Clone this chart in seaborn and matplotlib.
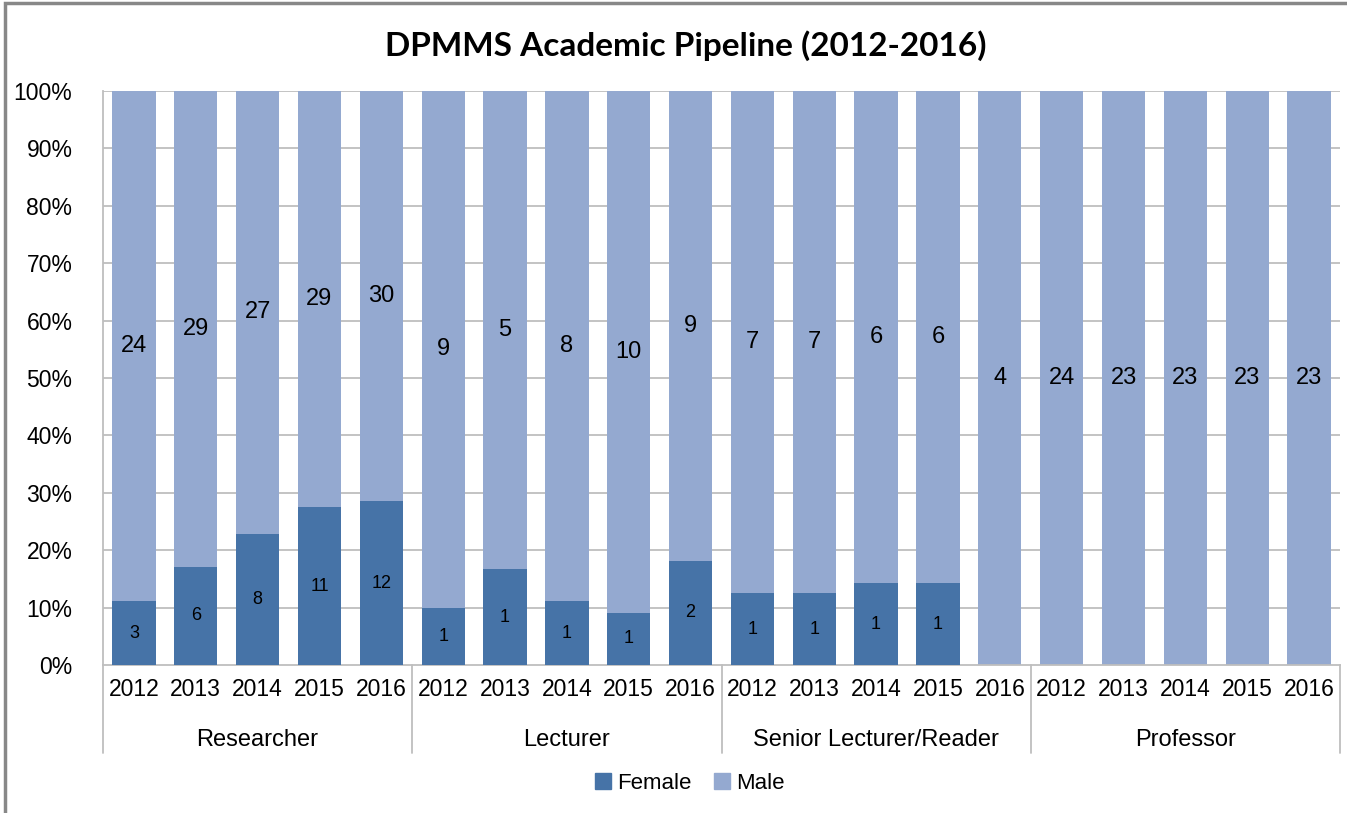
import matplotlib
matplotlib.use("Agg")
import matplotlib.pyplot as plt
import matplotlib.transforms as mtransforms
from matplotlib.patches import Patch, Rectangle
import seaborn as sns
import pandas as pd

# ---- data ----
groups = ["Researcher", "Lecturer", "Senior Lecturer/Reader", "Professor"]
years = ["2012", "2013", "2014", "2015", "2016"]
female_researcher = [3, 6, 8, 11, 12]
male_researcher = [24, 29, 27, 29, 30]
female_lecturer = [1, 1, 1, 1, 2]
male_lecturer = [9, 5, 8, 10, 9]
female_senior = [1, 1, 1, 1, 0]
male_senior = [7, 7, 6, 6, 4]
female_professor = [0, 0, 0, 0, 0]
male_professor = [24, 23, 23, 23, 23]
yticks = [0, 10, 20, 30, 40, 50, 60, 70, 80, 90, 100]

female_all = [female_researcher, female_lecturer, female_senior, female_professor]
male_all = [male_researcher, male_lecturer, male_senior, male_professor]

rows = []
for g, fs, ms in zip(groups, female_all, male_all):
    for y, f, m in zip(years, fs, ms):
        tot = f + m
        rows.append({"key": f"{g}|{y}", "group": g, "year": y, "female": f, "male": m,
                     "fpct": 100.0 * f / tot, "total": 100.0})
df = pd.DataFrame(rows)
order = list(df["key"])

FEMALE = "#4673A7"
MALE = "#94A9D0"
GRID = "#BEBEBE"

sns.set_theme(style="white")
plt.rcParams["font.family"] = ["Liberation Sans", "DejaVu Sans"]
plt.rcParams["text.color"] = "black"
plt.rcParams["xtick.color"] = "black"
plt.rcParams["ytick.color"] = "black"

fig = plt.figure(figsize=(13.47, 8.13), dpi=100)
ax = fig.add_axes([103 / 1347, 1 - 665 / 813, (1340 - 103) / 1347, (665 - 91) / 813])

sns.barplot(data=df, x="key", y="total", order=order, color=MALE, saturation=1,
            width=0.7, ax=ax, zorder=2, linewidth=0)
sns.barplot(data=df, x="key", y="fpct", order=order, color=FEMALE, saturation=1,
            width=0.7, ax=ax, zorder=3, linewidth=0)

ax.set_xlim(-0.5, len(order) - 0.5)
ax.set_ylim(0, 100)
ax.set_yticks(yticks)
ax.set_yticklabels([f"{t}%" for t in yticks], fontsize=16.5)
ax.set_xticks(range(len(order)))
ax.set_xticklabels(list(df["year"]), fontsize=16.5)
ax.tick_params(axis="y", length=0, pad=22, labelcolor="black")
ax.tick_params(axis="x", length=0, pad=9, labelcolor="black")
ax.set_xlabel("")
ax.set_ylabel("")
for t in yticks[1:]:
    ax.axhline(t, color=GRID, lw=1.3, zorder=1)
for s in ["top", "right"]:
    ax.spines[s].set_visible(False)
for s in ["left", "bottom"]:
    ax.spines[s].set_color(GRID)
    ax.spines[s].set_linewidth(1.3)

# value labels
for i, r in df.iterrows():
    if r["female"] > 0:
        ax.text(i, r["fpct"] / 2, str(r["female"]), ha="center", va="center",
                fontsize=13, color="black", zorder=5)
    if r["male"] > 0:
        ax.text(i, r["fpct"] + (100 - r["fpct"]) / 2, str(r["male"]), ha="center",
                va="center", fontsize=17, color="black", zorder=5)

# group labels and separators
trans = mtransforms.blended_transform_factory(ax.transData, ax.transAxes)
n = len(years)
bottom_sep = -(753 - 665) / (665 - 91)
for k in range(len(groups) + 1):
    xb = k * n - 0.5
    ax.plot([xb, xb], [0, bottom_sep], transform=trans, color=GRID, lw=1.3,
            clip_on=False)
for k, g in enumerate(groups):
    ax.text(k * n + (n - 1) / 2, -(740 - 665) / (665 - 91), g, transform=trans,
            ha="center", va="center", fontsize=17, color="black")

fig.text(686 / 1347, 1 - 46 / 813, "DPMMS Academic Pipeline (2012-2016)", fontsize=24,
         fontweight="bold", family=["Lato", "DejaVu Sans"], ha="center", va="center",
         color="black")

handles = [Patch(color=FEMALE, label="Female"), Patch(color=MALE, label="Male")]
fig.legend(handles=handles, loc="center", bbox_to_anchor=(690 / 1347, 1 - 783 / 813),
           ncol=2, frameon=False, fontsize=16, handlelength=0.7, handleheight=0.7,
           handletextpad=0.3, columnspacing=1.0)

# outer chart border (partially visible)
fig.patches.append(Rectangle((5 / 1347, -0.1), 2, 1.1 - 3 / 813, transform=fig.transFigure,
                             fill=False, edgecolor="#888888", lw=2.5))

fig.savefig("out.png", dpi=100)
